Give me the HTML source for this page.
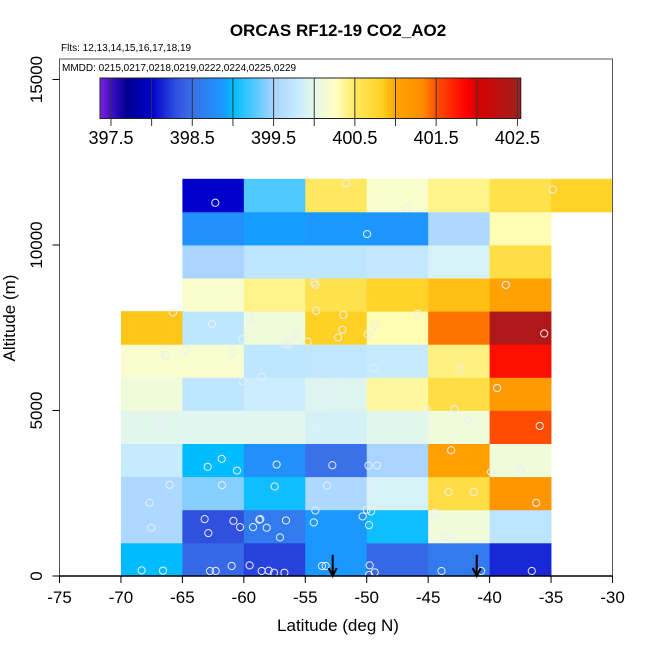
<!DOCTYPE html>
<html><head><meta charset="utf-8"><style>
html,body{margin:0;padding:0;background:#fff;}
svg{display:block;font-family:"Liberation Sans",sans-serif;}
</style></head><body>
<svg id="chart" width="650" height="650" viewBox="0 0 650 650"></svg>
<script>
// ---- data ----
const lonEdges = [-70,-65,-60,-55,-50,-45,-40,-35,-30];
const altBinSize = 1000;
// rows from 0-1000m upward; null = no data. columns -70..-30 (8 cols)
const row0  = [399.0,398.45,398.25,398.88,398.45,398.6,398.15,null];
const row1  = [399.55,398.3,398.6,398.88,399.05,400.1,399.7,null];
const row2  = [399.55,399.4,399.05,399.55,399.9,400.65,401.2,null];
const row3  = [399.78,399.0,398.8,398.5,399.5,401.07,400.1,null];
const row4  = [399.97,399.96,399.96,399.88,399.97,400.1,401.52,null];
const row5  = [400.1,399.72,399.82,399.95,400.35,400.65,401.15,null];
const row6  = [400.18,400.18,399.72,399.73,399.78,400.42,401.8,null];
const row7  = [400.88,399.72,400.1,400.82,400.3,401.4,402.4,null];
const row8  = [null,400.2,400.4,400.6,400.8,400.9,401.05,null];
const row9  = [null,399.5,399.7,399.72,399.75,399.9,400.65,null];
const row10 = [null,398.8,398.9,398.88,398.85,399.55,400.3,null];
const row11 = [null,398.0,399.25,400.5,400.2,400.4,400.6,400.8];
const gridRows = [row0,row1,row2,row3,row4,row5,row6,row7,row8,row9,row10,row11];
const obsLon = [-62.32,-51.68,-46.74,-34.86,-49.97,-54.29,-54.18,-38.68,-65.77,-54.10,-62.59,-51.90,-45.82,-49.32,-51.98,-52.33,-49.92,-55.75,-59.58,-60.10,-54.80,-56.62,-56.30,-35.56,-64.74,-66.36,-60.94,-49.48,-42.35,-58.55,-60.07,-53.55,-53.61,-52.31,-52.52,-39.39,-53.58,-45.14,-42.86,-41.72,-66.99,-54.04,-56.43,-35.92,-43.13,-61.80,-62.94,-60.56,-57.33,-52.80,-49.86,-49.16,-39.88,-37.49,-66.04,-61.78,-57.49,-53.23,-49.59,-43.35,-41.29,-67.69,-36.21,-44.46,-54.18,-54.31,-50.0,-49.65,-50.33,-49.81,-63.19,-62.89,-60.85,-60.31,-58.74,-58.66,-59.25,-58.14,-56.57,-57.06,-67.53,-43.57,-68.32,-66.58,-62.75,-62.29,-60.99,-59.53,-58.55,-57.98,-57.54,-56.70,-53.64,-53.34,-49.76,-49.81,-49.35,-43.92,-40.69,-36.57];
const obsAlt = [11276,11870,11115,11678,10331,8874,8794,8794,7960,8010,7608,7889,7919,7578,7437,7206,7306,7306,7769,7156,7075,6995,6995,7326,6834,6673,6754,6281,6271,6020,5879,5799,5638,5879,5729,5678,5065,5045,5045,4724,4593,4452,4291,4533,3799,3538,3296,3186,3367,3347,3337,3337,3146,3206,2754,2744,2703,2734,2643,2533,2533,2211,2211,1910,1980,1618,2000,1950,1799,1538,1719,1296,1668,1477,1699,1719,1477,1457,1678,1166,1457,1206,171,161,151,151,302,322,151,161,100,100,302,302,322,30,111,151,151,151];
const arrowLon = [-52.77,-41.05];
const xTicks = [-75,-70,-65,-60,-55,-50,-45,-40,-35,-30];
const yTicks = [0,5000,10000,15000];
const cbTicks = [397.5,398,398.5,399,399.5,400,400.5,401,401.5,402,402.5];
const cbLabels = ["397.5","398.5","399.5","400.5","401.5","402.5"];
const stopVals = [397.365,397.5,397.69,398.0,398.3,398.5,398.88,399.0,399.29,399.5,399.8,400.0,400.27,400.5,400.84,401.0,401.33,401.5,401.87,402.0,402.54];
const stopCols = ["#8020e0","#4010c8","#000090","#0000cd","#3050e0","#3a70e8","#1a98ff","#00bcff","#5ccaff","#a8d4ff","#c8ecff","#e6f8ea","#ffffc0","#ffe860","#ffd020","#ffa500","#ff8c00","#ff5000","#ff0000","#d80000","#a02020"];

// ---- scales ----
const X0=59.5,X1=612.5,Y0=576,Y1=79.5;
const xs = v => X0+(v+75)/45*(X1-X0);
const ys = v => Y0-v/15000*(Y0-Y1);
const CB0=100,CB1=520.7,CBV0=397.365,CBV1=402.54;
const cs = v => CB0+(v-CBV0)/(CBV1-CBV0)*(CB1-CB0);
function hex(c){return [1,3,5].map(i=>parseInt(c.substr(i,2),16));}
function color(v){
  if(v<=stopVals[0]) return stopCols[0];
  for(let i=1;i<stopVals.length;i++){
    if(v<=stopVals[i]){
      const t=(v-stopVals[i-1])/(stopVals[i]-stopVals[i-1]);
      const a=hex(stopCols[i-1]),b=hex(stopCols[i]);
      return "rgb("+a.map((x,k)=>Math.round(x+(b[k]-x)*t)).join(",")+")";
    }
  }
  return stopCols[stopCols.length-1];
}
const svg=document.getElementById('chart');
const NS="http://www.w3.org/2000/svg";
function mk(tag,attrs,parent){const e=document.createElementNS(NS,tag);for(const k in attrs)e.setAttribute(k,attrs[k]);(parent||svg).appendChild(e);return e;}

// cells
const gCells=mk('g',{});


gridRows.forEach((row,ri)=>{
  row.forEach((v,ci)=>{
    if(v===null) return;
    const x=xs(lonEdges[ci]),x2=xs(lonEdges[ci+1]);
    const y=ys((ri+1)*altBinSize),y2=ys(ri*altBinSize);
    const r=mk('rect',{x:x,y:y,width:x2-x+0.4,height:y2-y+0.4,fill:color(v)},gCells);
    
    
  });
});
// points
const gPts=mk('g',{});


obsLon.forEach((lo,i)=>{
  const c=mk('circle',{cx:xs(lo),cy:ys(obsAlt[i]),r:3.6,fill:'none',stroke:'#e8eef8','stroke-width':1},gPts);
  
  
});
// arrows
arrowLon.forEach(lo=>{
  const x=xs(lo);
  const g=mk('g',{});
  
  
  mk('line',{x1:x,y1:ys(640),x2:x,y2:Y0-1,stroke:'#000','stroke-width':2},g);
  mk('path',{d:`M${x-4} ${Y0-8} L${x} ${Y0} L${x+4} ${Y0-8}`,fill:'none',stroke:'#000','stroke-width':2},g);
});
// box
const box=mk('rect',{x:X0,y:59,width:X1-X0,height:Y0-59,fill:'none',stroke:'#555','stroke-width':1});


mk('line',{x1:X0,y1:Y0,x2:X1,y2:Y0,stroke:'#000','stroke-width':1.5});
// colorbar
const gCb=mk('g',{});


for(let p=CB0;p<CB1;p+=1){
  const v=CBV0+(p+0.5-CB0)/(CB1-CB0)*(CBV1-CBV0);
  mk('rect',{x:p,y:78,width:1.2,height:40.5,fill:color(v)},gCb);
}
mk('rect',{x:CB0,y:78,width:CB1-CB0,height:40.5,fill:'none',stroke:'#222','stroke-width':1},gCb);
cbTicks.forEach(t=>{
  mk('line',{x1:cs(t),y1:78,x2:cs(t),y2:126,stroke:'#333','stroke-width':1},gCb);
});
cbLabels.forEach(l=>{
  const tx=mk('text',{x:cs(parseFloat(l)),y:144,'font-size':18,'text-anchor':'middle',fill:'#000'},gCb);
  tx.textContent=l;
  
  
});
// x axis
xTicks.forEach(t=>{
  mk('line',{x1:xs(t),y1:Y0,x2:xs(t),y2:Y0+7,stroke:'#000'});
  const tx=mk('text',{x:xs(t),y:603,'font-size':17,'text-anchor':'middle'});
  tx.textContent=t;
  
  
});
// y axis
yTicks.forEach(t=>{
  mk('line',{x1:X0,y1:ys(t),x2:X0-7,y2:ys(t),stroke:'#000'});
  const tx=mk('text',{x:0,y:0,'font-size':17,'text-anchor':'middle',transform:`translate(42,${ys(t)}) rotate(-90)`});
  tx.textContent=t;
  
  
});
function label(txt,attrs,name){const t=mk('text',attrs);t.textContent=txt;}
label('ORCAS RF12-19 CO2_AO2',{x:338,y:36,'font-size':17,'font-weight':'bold','text-anchor':'middle'},'chart-title');
label('Flts: 12,13,14,15,16,17,18,19',{x:61,y:51,'font-size':10},'flights-note');
label('MMDD: 0215,0217,0218,0219,0222,0224,0225,0229',{x:62,y:71,'font-size':10},'dates-note');
label('Latitude (deg N)',{x:338,y:631,'font-size':17,'text-anchor':'middle'},'x-axis-title');
label('Altitude (m)',{x:0,y:0,'font-size':17,'text-anchor':'middle',transform:'translate(15,318) rotate(-90)'},'y-axis-title');
</script>
</body></html>
